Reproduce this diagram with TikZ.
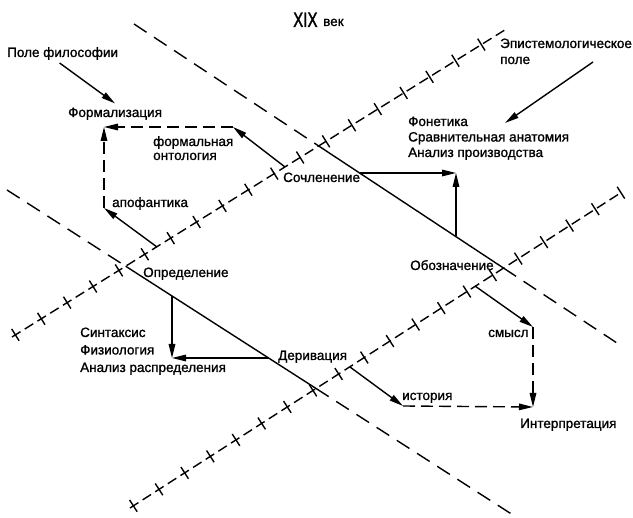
\documentclass[tikz,border=0pt]{standalone}
\usepackage{fontspec}
\setmainfont[FakeBold=1.2]{Liberation Sans}
\newfontfamily\narrowfont[FakeStretch=0.72, FakeBold=1.5]{Liberation Sans}
\usetikzlibrary{arrows.meta,decorations.markings}

\begin{document}
\begin{tikzpicture}[x=1pt, y=-1pt, font=\fontsize{13.5}{14}\selectfont]

        % Define custom styles
        \tikzset{
          lbl/.style={anchor=base west, inner sep=0pt, align=left},
          border/.style={line width=1.4pt, dash pattern=on 15pt off 9pt},
          solidline/.style={line width=1.4pt},
          ticked/.style={line width=1.4pt, dash pattern=on 10pt off 5pt,
            postaction={decorate},
            decoration={markings, mark=between positions 4pt and -1pt step 30.5pt with
              {\draw[solid, line width=1.4pt] (0,-7pt) -- (0,7pt);}}},
          arr/.style={line width=1.4pt, -{Triangle[length=14pt, width=6.5pt]}},
          darr/.style={arr, dash pattern=on 12pt off 6pt}
        }

        \useasboundingbox (0,0) rectangle (633,518);

        % End points of the four field lines
        \coordinate (a1) at (134,24);
        \coordinate (a2) at (620,345);
        \coordinate (b1) at (7,190);
        \coordinate (b2) at (513,515);
        \coordinate (c1) at (12,337);
        \coordinate (c2) at (508,28);
        \coordinate (d1) at (130,508);
        \coordinate (d2) at (622,192);

        % Corners where the lines cross
        \coordinate (ac) at (intersection of a1--a2 and c1--c2);
        \coordinate (ad) at (intersection of a1--a2 and d1--d2);
        \coordinate (bc) at (intersection of b1--b2 and c1--c2);
        \coordinate (bd) at (intersection of b1--b2 and d1--d2);

        % Draw the field lines
        \draw[border] (a1) -- (ac);
        \draw[solidline] (ac) -- (ad);
        \draw[border] (ad) -- (a2);
        \draw[border] (b1) -- (bc);
        \draw[solidline] (bc) -- (bd);
        \draw[border] (bd) -- (b2);
        \draw[ticked] (c1) -- (c2);
        \draw[ticked] (d1) -- (d2);

        % Labels (multi-line ones sit on the baseline of their last line)
        \node[lbl] (xix) at (293,27) {\narrowfont\fontsize{21}{21}\selectfont XIX};
        \node[lbl] (vek) at (323,26) {век};
        \node[lbl] (pole) at (7,57) {Поле философии};
        \node[lbl] (formaliz) at (68,117) {Формализация};
        \node[lbl, font=\fontsize{13.5}{14}\selectfont] (formont) at (153,160) {формальная\\онтология};
        \node[lbl] (apof) at (112,207) {апофантика};
        \node[lbl] (sochl) at (283,182) {Сочленение};
        \node[lbl, font=\fontsize{13.5}{15.5}\selectfont] (fonet) at (408,157) {Фонетика\\Сравнительная анатомия\\Анализ производства};
        \node[lbl, font=\fontsize{13.5}{16}\selectfont] (epist) at (500,64) {Эпистемологическое\\поле};
        \node[lbl] (obozn) at (410,270) {Обозначение};
        \node[lbl] (smysl) at (488,337) {смысл};
        \node[lbl] (istor) at (402,400) {история};
        \node[lbl] (interp) at (520,428) {Интерпретация};
        \node[lbl] (deriv) at (278,360) {Деривация};
        \node[lbl, font=\fontsize{13.5}{17.5}\selectfont] (sintak) at (80,372) {Синтаксис\\Физиология\\Анализ распределения};
        \node[lbl] (opred) at (143,277) {Определение};

        % Corners of the arrow paths
        \coordinate (fc) at (104,127);
        \coordinate (fo) at (233,127);
        \coordinate (ap) at (104,208);
        \coordinate (fon) at (456,173);
        \coordinate (sm) at (533,327);
        \coordinate (ip) at (533,407);
        \coordinate (is) at (403,406);
        \coordinate (sn) at (172,358);

        % Points on the field lines where the arrows start
        \coordinate (c-fo) at (285,167);
        \coordinate (c-ap) at (157,247);
        \coordinate (a-h) at (360,173);
        \coordinate (a-v) at (456,236);
        \coordinate (d-sm) at (475,286);
        \coordinate (d-is) at (350,367);
        \coordinate (b-h) at (269,358);
        \coordinate (b-v) at (172,296);
        \coordinate (epist-o) at (593,62);
        \coordinate (epist-e) at (505,123);

        % Draw arrows
        \draw[arr] ([xshift=-3pt, yshift=-3pt]pole.south) -- ([yshift=4pt]formaliz.north);
        \draw[arr] (epist-o) -- (epist-e);
        \draw[arr] (c-fo) -- (fo);
        \draw[darr] (fo) -- (fc);
        \draw[arr] (c-ap) -- (ap);
        \draw[darr] (ap) -- (fc);
        \draw[arr] (a-h) -- (fon);
        \draw[arr] (a-v) -- (fon);
        \draw[arr] (d-sm) -- (sm);
        \draw[darr] (sm) -- (ip);
        \draw[arr] (d-is) -- (is);
        \draw[darr] (is) -- (ip);
        \draw[arr] (b-h) -- (sn);
        \draw[arr] (b-v) -- (sn);

\end{tikzpicture}
\end{document}
